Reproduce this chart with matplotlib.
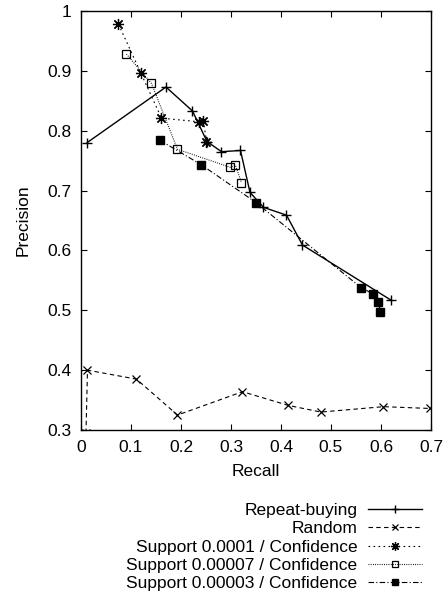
"""
Precision / recall curves: repeat-buying vs association rules
"""

import matplotlib
matplotlib.use('Agg')
import matplotlib.pyplot as plt

plt.rcParams['font.family'] = ['Liberation Sans', 'DejaVu Sans']
FS = 12.5

# ================================
# Data
# ================================
repeat_recall = [0.012, 0.170, 0.223, 0.252, 0.281, 0.319, 0.338, 0.365, 0.411, 0.443, 0.620]
repeat_precision = [0.780, 0.873, 0.833, 0.782, 0.765, 0.767, 0.697, 0.672, 0.659, 0.609, 0.517]

random_recall = [0.010, 0.013, 0.111, 0.193, 0.323, 0.415, 0.480, 0.605, 0.698]
random_precision = [0.295, 0.400, 0.385, 0.325, 0.364, 0.341, 0.330, 0.339, 0.336]

s1_recall = [0.075, 0.120, 0.161, 0.236, 0.245, 0.251]
s1_precision = [0.978, 0.896, 0.821, 0.815, 0.816, 0.782]

s2_recall = [0.091, 0.141, 0.193, 0.298, 0.309, 0.321]
s2_precision = [0.928, 0.879, 0.769, 0.739, 0.742, 0.713]

s3_recall = [0.158, 0.241, 0.350, 0.560, 0.585, 0.595, 0.599]
s3_precision = [0.784, 0.743, 0.680, 0.538, 0.527, 0.514, 0.498]

labels = [
    'Repeat-buying',
    'Random',
    'Support 0.0001 / Confidence',
    'Support 0.00007 / Confidence',
    'Support 0.00003 / Confidence',
]

# ================================
# Plot
# ================================
fig = plt.figure(figsize=(4.44, 5.96), dpi=100)
ax = fig.add_axes([0.1824, 0.2785, 0.7883, 0.7030])

ax.plot(repeat_recall, repeat_precision, color='black', lw=1.0, ls='-',
        marker='+', ms=7, mew=1.0, label=labels[0])
ax.plot(random_recall, random_precision, color='black', lw=0.8, ls=(0, (4, 3)),
        marker='x', ms=6, mew=0.9, label=labels[1])
ax.plot(s1_recall, s1_precision, color='black', lw=0.8, ls=(0, (1.5, 3)),
        marker=(8, 2, 0), ms=8, mew=0.9, label=labels[2])
ax.plot(s2_recall, s2_precision, color='black', lw=0.8, ls=(0, (0.8, 1.2)),
        marker='s', ms=6.2, mfc='none', mew=0.9, label=labels[3])
ax.plot(s3_recall, s3_precision, color='black', lw=0.8, ls=(0, (5, 2, 1, 2)),
        marker='s', ms=6.2, mfc='black', label=labels[4])

ax.set_xlim(0, 0.7)
ax.set_ylim(0.3, 1.0)
ax.set_xticks([0, 0.1, 0.2, 0.3, 0.4, 0.5, 0.6, 0.7])
ax.set_xticklabels(['0', '0.1', '0.2', '0.3', '0.4', '0.5', '0.6', '0.7'])
ax.set_yticks([0.3, 0.4, 0.5, 0.6, 0.7, 0.8, 0.9, 1.0])
ax.set_yticklabels(['0.3', '0.4', '0.5', '0.6', '0.7', '0.8', '0.9', '1'])
ax.tick_params(direction='in', length=4.5, width=0.8, top=True, right=True,
               labelsize=FS)
ax.tick_params(axis='x', pad=7)
ax.tick_params(axis='y', pad=7)
for sp in ax.spines.values():
    sp.set_linewidth(1.0)

ax.set_xlabel('Recall', fontsize=FS, labelpad=7)
ax.set_ylabel('Precision', fontsize=FS, labelpad=12)

fig.legend(loc='upper right', bbox_to_anchor=(0.950, 0.156), frameon=False,
           markerfirst=False, handlelength=3.1, handletextpad=0.6,
           labelspacing=0.18, fontsize=FS, borderpad=0, borderaxespad=0,
           markerscale=0.8)

plt.savefig('out.png', dpi=100)
